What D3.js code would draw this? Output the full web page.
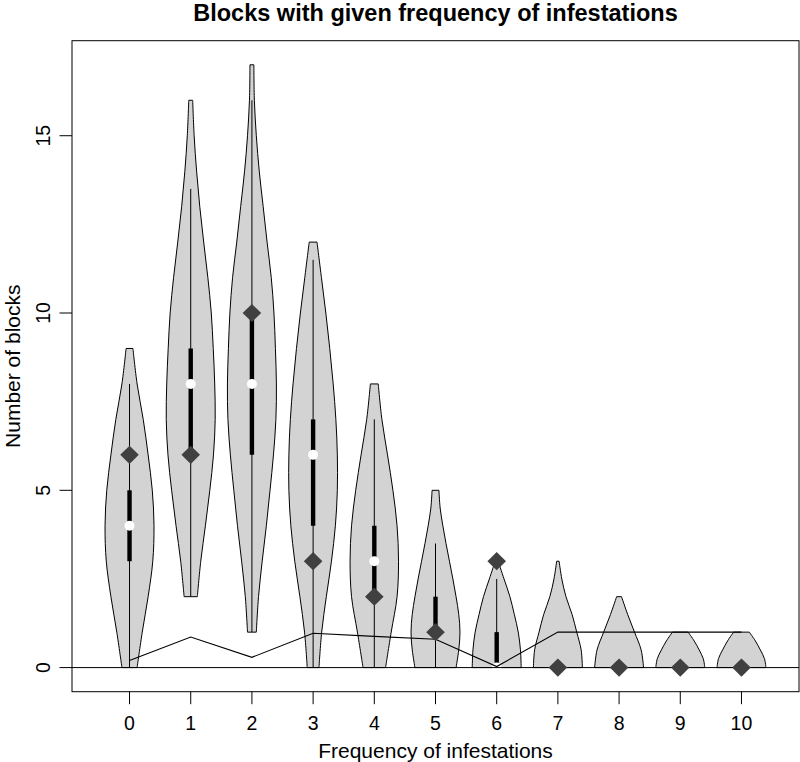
<!DOCTYPE html>
<html>
<head>
<meta charset="utf-8">
<script src="https://cdn.jsdelivr.net/npm/d3@7"></script>
<style>
  html, body { margin: 0; padding: 0; background: #fff; }
  svg { display: block; font-family: "Liberation Sans", Arial, Helvetica, sans-serif; }
</style>
</head>
<body>
<svg id="chart" width="800" height="762"></svg>
<script>
// ---------- data ----------
const categories = [0, 1, 2, 3, 4, 5, 6, 7, 8, 9, 10];
const yTicks = [0, 5, 10, 15];

// density outline of each violin: levels (number of blocks) and relative half-widths
const densityLevels = [
  [0, 1, 2, 3, 4, 5, 6, 7, 8, 9],
  [2, 3, 4, 5, 6, 7, 8, 9, 10, 11, 12, 13, 14, 15, 16],
  [1, 2, 3, 4, 5, 6, 7, 8, 9, 10, 11, 12, 13, 14, 15, 16, 17],
  [0, 1, 2, 3, 4, 5, 6, 7, 8, 9, 10, 11, 12],
  [0, 1, 2, 3, 4, 5, 6, 7, 8],
  [0, 0.5, 1, 1.5, 2, 2.5, 3, 3.5, 4, 4.5, 5],
  [0, 0.5, 1, 1.5, 2, 2.5, 3],
  [0, 0.5, 1, 1.5, 2, 2.5, 3],
  [0, 0.5, 1, 1.5, 2],
  [0, 0.25, 0.5, 0.75, 1],
  [0, 0.25, 0.5, 0.75, 1]
];
const densityWidths = [
  [0.31, 0.52, 0.76, 0.95, 1.0, 0.93, 0.76, 0.56, 0.31, 0.14],
  [0.27, 0.41, 0.60, 0.78, 0.93, 1.0, 0.98, 0.92, 0.84, 0.70, 0.53, 0.37, 0.24, 0.14, 0.08],
  [0.18, 0.27, 0.42, 0.59, 0.74, 0.88, 0.98, 1.0, 0.96, 0.90, 0.79, 0.62, 0.46, 0.30, 0.18, 0.10, 0.08],
  [0.24, 0.35, 0.54, 0.75, 0.91, 0.99, 0.99, 0.93, 0.82, 0.68, 0.52, 0.34, 0.16],
  [0.46, 0.69, 0.93, 0.99, 0.93, 0.76, 0.54, 0.31, 0.16],
  [0.84, 0.95, 1.0, 0.95, 0.84, 0.71, 0.57, 0.43, 0.30, 0.19, 0.14],
  [1.0, 0.97, 0.88, 0.72, 0.54, 0.30, 0.06],
  [1.0, 0.95, 0.77, 0.58, 0.33, 0.16, 0.05],
  [1.0, 0.90, 0.63, 0.35, 0.10],
  [1.0, 0.94, 0.77, 0.57, 0.32],
  [1.0, 0.94, 0.77, 0.57, 0.32]
];

const whiskerLow  = [0, 2, 1, 0, 0, 0, 0, 0, 0, 0, 0];
const whiskerHigh = [8, 13.5, 16, 11.5, 7, 3.5, 2.5, 0, 0, 0, 0];
const boxLow      = [3, 6, 6, 4, 2, 1, 0, 0, 0, 0, 0];
const boxHigh     = [5, 9, 10, 7, 4, 2, 1, 0, 0, 0, 0];
const medians     = [4, 8, 8, 6, 3, 1, 0, 0, 0, 0, 0];
const diamonds    = [6, 6, 10, 3, 2, 1, 3, 0, 0, 0, 0];
const lineValues  = [0.2, 0.86, 0.29, 0.97, 0.88, 0.8, 0.03, 1, 1, 1, 1];

const titleText = "Blocks with given frequency of infestations";
const xLabel = "Frequency of infestations";
const yLabel = "Number of blocks";

// ---------- layout ----------
const plot = { left: 72, right: 799, top: 40.7, bottom: 691.7 };
const svg = d3.select("#chart");

const xPad = (categories.length - 1 + 1) * 0.04;
const x = d3.scaleLinear()
  .domain([categories[0] - 0.5 - xPad, categories[categories.length - 1] + 0.5 + xPad])
  .range([plot.left, plot.right]);
const yMax = 17;
const y = d3.scaleLinear()
  .domain([-yMax * 0.04, yMax * 1.04])
  .range([plot.bottom, plot.top]);

const halfW = 0.4;

// violins
const g = svg.append("g");
categories.forEach((c, i) => {
  const pts = densityLevels[i].map((lv, k) => [lv, densityWidths[i][k]]);
  const area = d3.area()
    .y(d => y(d[0]))
    .x0(d => x(c - halfW * d[1]))
    .x1(d => x(c + halfW * d[1]))
    .curve(d3.curveCatmullRom.alpha(0.5));
  g.append("path")
    .attr("d", area(pts))
    .attr("fill", "#d3d3d3")
    .attr("stroke", "#000")
    .attr("stroke-width", 1);
});

// whiskers
g.selectAll("line.whisker").data(categories).enter().append("line")
  .attr("x1", d => x(d)).attr("x2", d => x(d))
  .attr("y1", (d, i) => y(whiskerLow[i])).attr("y2", (d, i) => y(whiskerHigh[i]))
  .attr("stroke", "#000").attr("stroke-width", 1);

// boxes
g.selectAll("line.box").data(categories).enter().append("line")
  .attr("x1", d => x(d)).attr("x2", d => x(d))
  .attr("y1", (d, i) => y(boxLow[i])).attr("y2", (d, i) => y(boxHigh[i]))
  .attr("stroke", "#000").attr("stroke-width", 4.4).attr("stroke-linecap", "butt");

// medians
g.selectAll("circle.med").data(categories).enter().append("circle")
  .attr("cx", d => x(d)).attr("cy", (d, i) => y(medians[i])).attr("r", 5)
  .attr("fill", "#fff");

// zero line
svg.append("line")
  .attr("x1", plot.left).attr("x2", plot.right)
  .attr("y1", y(0)).attr("y2", y(0))
  .attr("stroke", "#000").attr("stroke-width", 1);

// polyline
svg.append("path")
  .attr("d", d3.line().x((d, i) => x(categories[i])).y(d => y(d))(lineValues))
  .attr("fill", "none").attr("stroke", "#000").attr("stroke-width", 1.1);

// diamonds
const dw = 9.3, dh = 9.1;
svg.selectAll("path.diamond").data(categories).enter().append("path")
  .attr("d", (d, i) => {
    const cx = x(d), cy = y(diamonds[i]);
    return `M${cx},${cy - dh}L${cx + dw},${cy}L${cx},${cy + dh}L${cx - dw},${cy}Z`;
  })
  .attr("fill", "#404040");

// frame
svg.append("rect")
  .attr("x", plot.left).attr("y", plot.top)
  .attr("width", plot.right - plot.left).attr("height", plot.bottom - plot.top)
  .attr("fill", "none").attr("stroke", "#000").attr("stroke-width", 1);

// x axis
const tickLen = 12.5;
const xAxis = svg.append("g");
xAxis.selectAll("line").data(categories).enter().append("line")
  .attr("x1", d => x(d)).attr("x2", d => x(d))
  .attr("y1", plot.bottom).attr("y2", plot.bottom + tickLen)
  .attr("stroke", "#000");
xAxis.selectAll("text").data(categories).enter().append("text")
  .attr("x", d => x(d)).attr("y", 730)
  .attr("text-anchor", "middle").attr("font-size", 19.5)
  .text(d => d);

// y axis
const yAxis = svg.append("g");
yAxis.selectAll("line").data(yTicks).enter().append("line")
  .attr("x1", plot.left - tickLen).attr("x2", plot.left)
  .attr("y1", d => y(d)).attr("y2", d => y(d))
  .attr("stroke", "#000");
yAxis.selectAll("text").data(yTicks).enter().append("text")
  .attr("transform", d => `translate(50,${y(d)}) rotate(-90)`)
  .attr("text-anchor", "middle").attr("font-size", 19.5)
  .text(d => d);

// titles
svg.append("text")
  .attr("x", (plot.left + plot.right) / 2).attr("y", 21)
  .attr("text-anchor", "middle").attr("font-size", 23.5).attr("font-weight", "bold")
  .text(titleText);
svg.append("text")
  .attr("x", (plot.left + plot.right) / 2).attr("y", 758)
  .attr("text-anchor", "middle").attr("font-size", 21)
  .text(xLabel);
svg.append("text")
  .attr("transform", `translate(19.5,${(plot.top + plot.bottom) / 2}) rotate(-90)`)
  .attr("text-anchor", "middle").attr("font-size", 21)
  .text(yLabel);
</script>
</body>
</html>
